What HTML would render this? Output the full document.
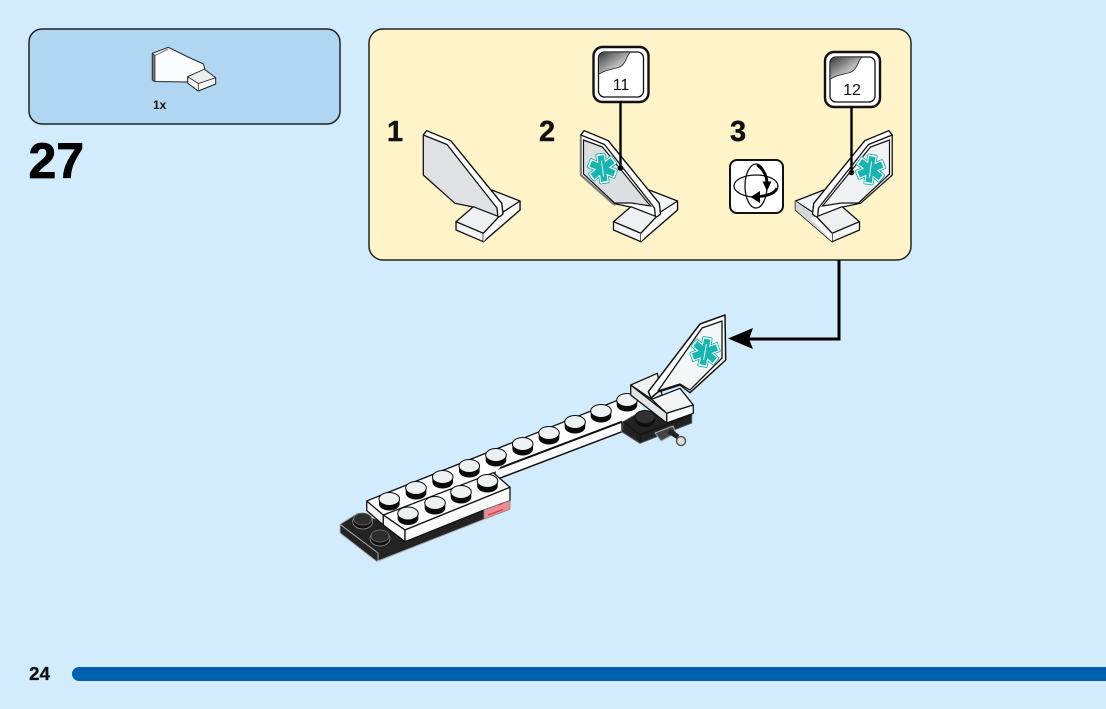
<!DOCTYPE html>
<html><head><meta charset="utf-8"><style>
html,body{margin:0;padding:0;background:#d3ecfd}
svg{display:block}
text{font-family:"Liberation Sans",sans-serif}
</style></head><body>
<svg width="1106" height="709" viewBox="0 0 1106 709" xmlns="http://www.w3.org/2000/svg">
<defs>
<linearGradient id="peel" x1="0" y1="0" x2="1" y2="1">
<stop offset="0" stop-color="#3a3a3a"/><stop offset=".55" stop-color="#b5b5b5"/><stop offset="1" stop-color="#e2e2e2"/>
</linearGradient>
<g id="star">
<g fill="#fff" stroke="#18b5b0" stroke-width="1">
<rect x="-4.800" y="-15" width="9.600" height="30" rx="1"/>
<rect x="-4.800" y="-15" width="9.600" height="30" rx="1" transform="rotate(60)"/>
<rect x="-4.800" y="-15" width="9.600" height="30" rx="1" transform="rotate(120)"/>
</g>
<g fill="#fff"><rect x="-4.300" y="-14.500" width="8.600" height="29"/><rect x="-4.300" y="-14.500" width="8.600" height="29" transform="rotate(60)"/><rect x="-4.300" y="-14.500" width="8.600" height="29" transform="rotate(120)"/></g>
<g fill="#18b5b0">
<rect x="-3.300" y="-13" width="6.600" height="26"/>
<rect x="-3.300" y="-13" width="6.600" height="26" transform="rotate(60)"/>
<rect x="-3.300" y="-13" width="6.600" height="26" transform="rotate(120)"/>
</g>
<path d="M0-8V8" stroke="#e8fbfa" stroke-width="1"/>
</g>
<g id="stud">
<path d="M-10.300,0V5A10.300,6.500 0 0 0 10.300,5V0Z" fill="#0a0a0a"/>
<ellipse cx="0" cy="0" rx="10.300" ry="6.500" fill="#eef1f3" stroke="#0a0a0a" stroke-width="1"/>
</g>
<g id="callout">
<rect x="0" y="0" width="55" height="55" rx="9" fill="#fff" stroke="#111" stroke-width="2.400"/>
<rect x="5" y="5" width="45" height="45" rx="6" fill="#fff" stroke="#111" stroke-width="1.300"/>
<path d="M5.700,27V11Q5.700,5.700 11,5.700H36.500C33,9 33,14 29,18C24,23 14,21 5.700,27Z" fill="url(#peel)"/>
<path d="M5.700,27C14,21 24,23 29,18C33,14 33,9 36.500,5.700" fill="none" stroke="#333" stroke-width=".9"/>
</g>
<g id="back" stroke="#111" stroke-width="1.300" stroke-linejoin="round">
<path d="M491.700,190L520,201V210L483.300,241.700L470,225Z" fill="#f3f4f5"/>
<path d="M497,216L520,201V210L483.300,241.700L480,230Z" fill="#fbfbfb"/>
</g>
<g id="front" stroke="#111" stroke-width="1.300" stroke-linejoin="round">
<path d="M456,221.700L473.300,206.700L499,216.700L483.300,233.300Z" fill="#eef0f2"/>
<path d="M456,221.700L483.300,233.300V241.700L456,230Z" fill="#f5f6f7"/>
<path d="M483.300,233.300L499,217L505,218L483.300,241.700Z" fill="#fbfbfb" stroke="none"/>
<path d="M483.300,233.300L499,216.700" fill="none"/>
</g>
<path id="fin" d="M423.300,135L426.700,130.700L450.700,140.700L501.700,203.300L503,214L498,218L473,207L455,203.300L423.300,175Z" stroke="#111" stroke-width="1.300" stroke-linejoin="round"/>
<path id="band" d="M423.300,135L426.700,130.700L450.700,140.700L501.700,203.300L503,214L498,218L497,208L447,144.500Z" fill="#fff" stroke="#111" stroke-width="1.300" stroke-linejoin="round"/>
</defs>
<rect width="1106" height="709" fill="#d3ecfd"/>

<!-- parts panel -->
<rect x="29" y="29" width="311" height="95" rx="13" fill="#b0d6f2" stroke="#222" stroke-width="1.500"/>
<path d="M152.300,53.300L168.300,47.300L188,57L203.500,64L205,70L187.700,77V82L155,81.500L152.300,80Z" fill="#fbfcfd" stroke="#222" stroke-width="1"/>
<path d="M152.300,53.300L155,55.500V81.500L152.300,80Z" fill="#777" stroke="#222" stroke-width=".7"/>
<path d="M155,55.500L168.300,49" stroke="#777" stroke-width="1"/>
<path d="M187.700,76.700L204.300,69.300L215.700,77.700V84L198.300,91L187.700,83.300Z" fill="#fafafa" stroke="#222" stroke-width="1"/>
<path d="M187.700,76.700L204.300,69.300L215.700,77.700L198.300,83.500Z" fill="#eceeef" stroke="#222" stroke-width=".8"/>
<path d="M198.300,83.500V91" stroke="#222" stroke-width=".8"/>
<text x="153" y="109" font-size="12" font-weight="700" fill="#111">1x</text>
<text x="28.500" y="178" font-size="50" font-weight="700" fill="#000" stroke="#000" stroke-width=".8">27</text>

<!-- steps panel -->
<rect x="369" y="29" width="542" height="231" rx="14" fill="#fef3c9" stroke="#222" stroke-width="1.500"/>
<text x="387" y="141" font-size="29" font-weight="700" fill="#111" stroke="#111" stroke-width=".4">1</text>
<text x="539" y="141" font-size="29" font-weight="700" fill="#111" stroke="#111" stroke-width=".4">2</text>
<text x="730" y="141" font-size="29" font-weight="700" fill="#111" stroke="#111" stroke-width=".4">3</text>

<!-- step 1 -->
<g>
<use href="#back"/>
<use href="#fin" fill="#dfe1e2"/>
<use href="#band"/>
<use href="#front"/>
</g>

<!-- step 2 -->
<g transform="translate(157.500,0)">
<use href="#back"/>
<use href="#fin" fill="#fff"/>
<path d="M423.300,135V175L455,203.300L458,205" fill="none" stroke="#777" stroke-width="2"/>
<path d="M426,140L445,147L493,206L474,203L457,203L426,174Z" fill="#dcdfe0" stroke="#111" stroke-width="1.200"/>
<use href="#band"/>
<use href="#front"/>
</g>
<use href="#star" transform="translate(602.500,168.500) rotate(-8) scale(.98,1)"/>

<!-- step 3 -->
<g transform="translate(1315.500,0) scale(-1,1)">
<use href="#back"/>
<path d="M520,201V210L483.300,241.700L480,232L500,216Z" fill="#d5d6d7"/>
<use href="#fin" fill="#fff"/>
<path d="M426,140L445,147L493,206L474,203L457,203L426,174Z" fill="#f0f2f3" stroke="#111" stroke-width="1.200"/>
<use href="#band"/>
<use href="#front"/>
</g>
<use href="#star" transform="translate(870.500,169.500) rotate(8) scale(.98,1)"/>

<!-- callouts -->
<use href="#callout" x="593.500" y="47"/>
<text x="621" y="90" font-size="16" text-anchor="middle" fill="#111">11</text>
<path d="M620.500,102V168" stroke="#000" stroke-width="2.400"/><circle cx="620.500" cy="168" r="2.800" fill="#000"/>
<use href="#callout" x="825" y="52"/>
<text x="852" y="95" font-size="16" text-anchor="middle" fill="#111">12</text>
<path d="M851.500,107V172" stroke="#000" stroke-width="2.400"/><circle cx="851.500" cy="172.500" r="2.800" fill="#000"/>

<!-- rotate icon -->
<rect x="730" y="160" width="53" height="53" rx="7" fill="#fff" stroke="#111" stroke-width="2"/>
<ellipse cx="756" cy="186" rx="22" ry="11" fill="none" stroke="#111" stroke-width="1.300"/>
<ellipse cx="756" cy="186" rx="11" ry="22" fill="none" stroke="#111" stroke-width="1.300"/>
<path d="M757,165C763,169 767,175 767,184" fill="none" stroke="#000" stroke-width="2.800"/>
<path d="M762.500,181.500H771.500L767,191Z" fill="#000"/>
<path d="M777,188C775,193 768,196 758,196.500" fill="none" stroke="#000" stroke-width="2.800"/>
<path d="M760,191V203L750.500,197Z" fill="#000"/>

<!-- connector -->
<path d="M839,260V339H749" fill="none" stroke="#000" stroke-width="3"/>
<path d="M728,338.500L753,328L749,339L753,349Z" fill="#000"/>

<!-- main model -->
<g stroke-linejoin="round">
<!-- black plate -->
<path d="M340,524.300L358,513L405,530V541.700L484,510V519.300L376.700,561L340,533Z" fill="#232323"/>
<path d="M340,524.300V533L376.700,561.500L484,519.300M340,524.300L378,553V561" fill="none" stroke="#aaa" stroke-width="1"/>
<path d="M340,524.300L358,513" fill="none" stroke="#aaa" stroke-width="1"/>
<ellipse cx="362.700" cy="521.500" rx="10" ry="7.500" fill="#111" stroke="#999" stroke-width=".7"/>
<ellipse cx="362.700" cy="519" rx="9" ry="6" fill="#2d2d2d" stroke="#777" stroke-width=".7"/>
<ellipse cx="380" cy="538.500" rx="10" ry="7.500" fill="#111" stroke="#999" stroke-width=".7"/>
<ellipse cx="380" cy="536" rx="9" ry="6" fill="#2d2d2d" stroke="#777" stroke-width=".7"/>
<!-- strip lower band -->
<path d="M495,470L622,421.700V431.700L495,480Z" fill="#fbfbfb" stroke="#111" stroke-width="1.500"/>
<!-- top face -->
<path d="M366.700,501L632,394.500L645,412L622,421.700L500,468L493,473L383.300,525V515Z" fill="#fdfdfd" stroke="none"/>
<path d="M366.700,501L632,394.500" stroke="#111" stroke-width="1.300" fill="none"/>
<path d="M500,468L622,421.700" stroke="#111" stroke-width="2" fill="none"/>
<path d="M366.700,501V510.500L383.300,525V515Z" fill="#f4f4f4" stroke="#111" stroke-width="1.300"/>
<!-- front brick -->
<path d="M383.300,515L493.300,472.700L510,487.300L405,530Z" fill="#fdfdfd" stroke="#111" stroke-width="1.300"/>
<path d="M383.300,515V525L405,541.700V530Z" fill="#f8f8f8" stroke="#111" stroke-width="1.300"/>
<path d="M405,530L510,487.300V500.700L484,510L405,541.700Z" fill="#fbfbfb" stroke="#111" stroke-width="1.300"/>
<path d="M484,510L510,500.700V509.300L484,519.300Z" fill="#ee8a94" stroke="#888" stroke-width=".8"/>
<path d="M488,515L503,509.500M499,505L503,503" stroke="#c33" stroke-width="1"/>
<!-- studs -->
<use href="#stud" x="389.300" y="499"/><use href="#stud" x="416" y="488"/><use href="#stud" x="442.700" y="477"/>
<use href="#stud" x="469.300" y="466"/><use href="#stud" x="496" y="455"/><use href="#stud" x="522.700" y="444"/>
<use href="#stud" x="549" y="433"/><use href="#stud" x="575" y="422"/><use href="#stud" x="601" y="411"/><use href="#stud" x="627" y="400"/>
<use href="#stud" x="408" y="513.500"/><use href="#stud" x="435" y="503"/><use href="#stud" x="461" y="492"/><use href="#stud" x="487.500" y="481"/>
<!-- black under wing -->
<path d="M623.300,421.700L640,412L691.700,413V423L640,443.300L621.700,431.700Z" fill="#222" stroke="#555" stroke-width="1"/>
<path d="M623.300,421.700L640,435L691.700,415M640,435V443" fill="none" stroke="#111" stroke-width="1"/>
<ellipse cx="645" cy="420" rx="10" ry="7" fill="#0d0d0d"/>
<ellipse cx="645" cy="417" rx="10" ry="6.500" fill="#303030" stroke="#111"/>
<!-- connector piece -->
<path d="M655,433L673,426L676,433L661,441Z" fill="#444" stroke="#aaa" stroke-width="1"/>
<path d="M669,431L678,437" stroke="#222" stroke-width="5"/>
<circle cx="681" cy="441" r="4.500" fill="#ddd" stroke="#555" stroke-width="1.500"/>
<!-- back block -->
<path d="M630.700,385L657.300,373.300L662,395L651.700,399.300Z" fill="#f1f2f3" stroke="#111" stroke-width="1.300"/>
<!-- wing -->
<path d="M648.300,391.700L700,324L725,315L725.700,360L690,392.700L680,385L658,392L651,398Z" fill="#fff" stroke="#111" stroke-width="1.500"/>
<path d="M658,391L702,328L722,321L722,358L690,390L680,384Z" fill="#f3f5f6" stroke="#111" stroke-width="1.300"/>
<!-- right block -->
<path d="M651.700,399.300L680,388.300L693.300,405L666.700,413.300Z" fill="#f3f4f5" stroke="#111" stroke-width="1.300"/>
<path d="M666.700,413.300L693.300,405V413.300L666.700,423Z" fill="#fff" stroke="#111" stroke-width="1.300"/>
<!-- bar -->
<path d="M630.700,385L666.700,413.300V423L630.700,395Z" fill="#e3e4e5" stroke="#111" stroke-width="1.300"/>
</g>
<use href="#star" transform="translate(705,352) rotate(10) scale(.98,1)"/>

<!-- footer -->
<text x="29" y="680" font-size="18" font-weight="700" fill="#111" stroke="#111" stroke-width=".3" textLength="21" lengthAdjust="spacingAndGlyphs">24</text>
<path d="M1106,667H79A7,7 0 0 0 79,681H1106Z" fill="#0060ae"/>
</svg>
</body></html>
